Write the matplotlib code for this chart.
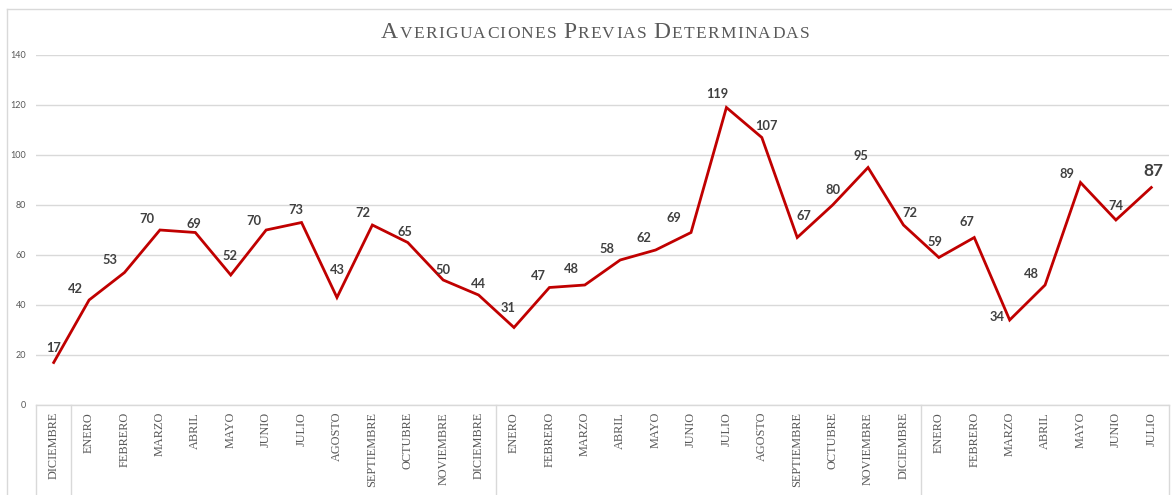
#!/usr/bin/env python3
"""Averiguaciones previas determinadas - monthly line chart."""

import matplotlib
matplotlib.use('Agg')
import matplotlib.pyplot as plt
from matplotlib.lines import Line2D
import matplotlib.transforms as mtransforms

months = ['DICIEMBRE',
          'ENERO', 'FEBRERO', 'MARZO', 'ABRIL', 'MAYO', 'JUNIO', 'JULIO',
          'AGOSTO', 'SEPTIEMBRE', 'OCTUBRE', 'NOVIEMBRE', 'DICIEMBRE',
          'ENERO', 'FEBRERO', 'MARZO', 'ABRIL', 'MAYO', 'JUNIO', 'JULIO',
          'AGOSTO', 'SEPTIEMBRE', 'OCTUBRE', 'NOVIEMBRE', 'DICIEMBRE',
          'ENERO', 'FEBRERO', 'MARZO', 'ABRIL', 'MAYO', 'JUNIO', 'JULIO']
values = [17, 42, 53, 70, 69, 52, 70, 73, 43, 72, 65, 50, 44,
          31, 47, 48, 58, 62, 69, 119, 107, 67, 80, 95, 72,
          59, 67, 34, 48, 89, 74, 87]

# label nudges in pixels (dx, dy), as placed by hand in the original
label_offsets = [(0, 15), (-14, 11), (-15, 13), (-13, 11), (-1, 8), (-1, 19),
                 (-12, 9), (-6, 12), (0, 28), (-9, 12), (-3, 11), (0, 10),
                 (0, 11), (-6, 20), (-11, 11), (-13, 16), (-13, 11),
                 (-12, 12), (-17, 14), (-9, 14), (5, 11), (7, 22), (0, 15),
                 (-7, 11), (6, 12), (-4, 16), (-7, 15), (-13, 3), (-14, 11),
                 (-14, 9), (0, 14), (2, 17)]

W, H = 1172, 495
GRID = '#d9d9d9'
TEXT = '#595959'


def small_caps_title(fig, text, cx, baseline, big=17, small=12.5,
                     spacing=1.3):
    """Fake small caps: first letter of each word big, rest small."""
    renderer = fig.canvas.get_renderer()
    chars = []
    for i, word in enumerate(text.split()):
        if i:
            chars.append((' ', small))
        chars.append((word[0].upper(), big))
        for c in word[1:].upper():
            chars.append((c, small))
    artists, widths = [], []
    for c, size in chars:
        t = fig.text(0, baseline / H, c, fontsize=size, color=TEXT,
                     family='Liberation Serif', va='baseline', ha='left')
        artists.append(t)
        if c == ' ':
            widths.append(size * 0.3 * fig.dpi / 72)
        else:
            widths.append(t.get_window_extent(renderer).width + spacing)
    x = cx - sum(widths) / 2
    for t, w in zip(artists, widths):
        t.set_x(x / W)
        x += w


def main():
    fig = plt.figure(figsize=(W / 100, H / 100), dpi=100)
    ax = fig.add_axes([36 / W, 1 - 405 / H, (1169 - 36) / W, 350 / H])

    x = list(range(len(values)))
    ax.plot(x, values, color='#c00000', lw=2.0, solid_joinstyle='miter',
            zorder=3)

    for xi, v, (dx, dy) in zip(x, values, label_offsets):
        last = xi == len(values) - 1
        ax.annotate(str(v), (xi, v), xytext=(dx, dy),
                    textcoords='offset pixels', ha='center', va='center',
                    fontsize=12.5 if last else 9.3, fontweight='bold',
                    family='Lato', color='#404040', zorder=4)

    ax.set_xlim(-0.5, len(values) - 0.5)
    ax.set_ylim(0, 140)
    ax.set_yticks(range(0, 141, 20))
    ax.yaxis.grid(True, color=GRID, lw=1.0)
    ax.set_axisbelow(True)
    ax.tick_params(axis='y', length=0, pad=7, labelsize=6.5,
                   labelcolor=TEXT)
    for lbl in ax.get_yticklabels():
        lbl.set_family('Lato')

    ax.set_xticks(x)
    ax.set_xticklabels(months, rotation=90, family='Liberation Serif',
                       fontsize=8.8, color=TEXT, va='top', ha='center')
    ax.tick_params(axis='x', length=0, pad=5)

    for side in ['left', 'right', 'top']:
        ax.spines[side].set_visible(False)
    ax.spines['bottom'].set_color(GRID)
    ax.spines['bottom'].set_linewidth(1.0)

    # multi-level category separators (year boundaries)
    bounds = [-0.5] + [i - 0.5 for i, m in enumerate(months)
                       if m == 'ENERO'] + [len(months) - 0.5]
    trans = mtransforms.blended_transform_factory(ax.transData, ax.transAxes)
    for b in bounds:
        ax.add_line(Line2D([b, b], [0, -0.3], transform=trans, color=GRID,
                           lw=1.0, clip_on=False))

    # chart-area border (left and top edges visible)
    fig.add_artist(Line2D([7 / W, 7 / W], [0, 1 - 9 / H], color=GRID,
                          lw=1.0, transform=fig.transFigure))
    fig.add_artist(Line2D([7 / W, 1], [1 - 9 / H, 1 - 9 / H], color=GRID,
                          lw=1.0, transform=fig.transFigure))

    fig.canvas.draw()
    small_caps_title(fig, 'Averiguaciones Previas Determinadas', 596,
                     H - 38)

    fig.savefig('out.png', dpi=100)


if __name__ == '__main__':
    main()
